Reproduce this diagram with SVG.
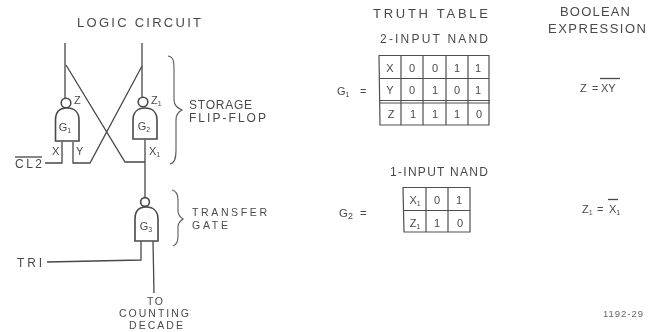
<svg xmlns="http://www.w3.org/2000/svg" width="662" height="332" viewBox="0 0 662 332">
<defs>
<filter id="soft" x="-5%" y="-5%" width="110%" height="110%"><feGaussianBlur stdDeviation="0.45"/></filter>
</defs>
<style>
text{font-family:"Liberation Sans",Arial,sans-serif;fill:#4a4a4a;font-size:11px}
.c{text-anchor:middle}
.s{font-size:12px}
.n{font-size:10.500px}
.h{font-size:13px}
.sub{font-size:7px}
.l{fill:none;stroke:#484848;stroke-width:1.3}
.g{fill:#fff;stroke:#484848;stroke-width:1.6}
.b{fill:none;stroke:#5a5a5a;stroke-width:1.1}
.tb{fill:none;stroke:#505050;stroke-width:1.2}
</style>
<rect width="662" height="332" fill="#fff"/>
<g filter="url(#soft)">
<text class="h" x="77" y="27" textLength="124">LOGIC CIRCUIT</text>
<text class="h" x="373" y="18" textLength="115">TRUTH TABLE</text>
<text class="h" x="560" y="16" textLength="70">BOOLEAN</text>
<text class="h" x="548" y="33" textLength="98">EXPRESSION</text>
<text class="s" x="380" y="43" textLength="108">2-INPUT NAND</text>
<text class="s" x="390" y="176" textLength="98">1-INPUT NAND</text>

<g id="connectors">
<path class="l" d="M65 43V99"/>
<path class="l" d="M142 43V98"/>
<path class="l" d="M66 65L125 162H145"/>
<path class="l" d="M142 66L90 163H73V142"/>
<path class="l" d="M45 163H62V142"/>
<path class="l" d="M145 140V198"/>
<path class="l" d="M141 241V260L47 262"/>
<path class="l" d="M153 241L154 293"/>
<path class="l" d="M15 157H42"/>
</g>

<g id="G1">
<circle class="g" cx="66" cy="103" r="4.8"/>
<path class="g" d="M55.500 141V120C55.500 112 60 108 67 108C74 108 79 112 79 120V141Z"/>
<text class="c" x="65" y="131">G<tspan class="sub" dy="2">1</tspan></text>
</g>
<g id="G2">
<circle class="g" cx="143" cy="102" r="4.8"/>
<path class="g" d="M133 139V120C133 112 138 108 145 108C152 108 157 112 157 120V139Z"/>
<text class="c" x="144" y="130">G<tspan class="sub" dy="2">2</tspan></text>
</g>
<g id="G3">
<circle class="g" cx="145" cy="202" r="4.4"/>
<path class="g" d="M135 241V219C135 211 139 207 146 207C153 207 158 211 158 219V241Z"/>
<text class="c" x="146" y="230">G<tspan class="sub" dy="2">3</tspan></text>
</g>

<g id="labels-logic">
<text x="74" y="104">Z</text>
<text x="151" y="104">Z<tspan class="sub" dy="2">1</tspan></text>
<text x="52" y="155">X</text>
<text x="76" y="155">Y</text>
<text x="149" y="155">X<tspan class="sub" dy="2">1</tspan></text>
<text x="15" y="168" class="s" textLength="27">CL2</text>
<text x="17" y="267" class="s" textLength="25">TRI</text>
<text class="n" x="147" y="305" textLength="16">TO</text>
<text class="n" x="119" y="317" textLength="70">COUNTING</text>
<text class="n" x="129" y="329" textLength="54">DECADE</text>
<text class="s" x="189" y="109" textLength="63">STORAGE</text>
<text class="s" x="189" y="122" textLength="77">FLIP-FLOP</text>
<text class="n" x="192" y="216" textLength="75">TRANSFER</text>
<text class="n" x="192" y="229" textLength="36">GATE</text>
</g>

<g id="brace-storage">
<path class="b" d="M168 56C174 57 174 62 174 70V100C174 106 178 108 182 110C178 112 176 115 176 120V150C176 158 175 163 170 164"/>
</g>
<g id="brace-transfer">
<path class="b" d="M172 190C177 191 178 195 178 200V211C178 215 180 217 183 219C180 221 178 223 178 227V236C178 242 176 245 173 246"/>
</g>

<g id="table-g1">
<text x="337" y="95">G<tspan class="sub" dy="2">1</tspan><tspan x="360" dy="-2">=</tspan></text>
<path class="tb" d="M379 55.500H489V125H380Z"/>
<path class="tb" d="M379 78.500H489M380 100.500H490M380 103H490M401 56V125M423 56V125M446 56V125M468 56V125"/>
<text class="c" x="390" y="72">X</text><text class="c" x="412" y="72">0</text><text class="c" x="435" y="72">0</text><text class="c" x="457" y="72">1</text><text class="c" x="478" y="72">1</text>
<text class="c" x="390" y="94">Y</text><text class="c" x="412" y="94">0</text><text class="c" x="435" y="94">1</text><text class="c" x="457" y="94">0</text><text class="c" x="478" y="94">1</text>
<text class="c" x="391" y="118">Z</text><text class="c" x="413" y="118">1</text><text class="c" x="435" y="118">1</text><text class="c" x="457" y="118">1</text><text class="c" x="479" y="118">0</text>
</g>

<g id="table-g2">
<text x="339" y="217" style="font-size:11.500px">G<tspan style="font-size:9px" dy="2">2</tspan><tspan x="360" dy="-2">=</tspan></text>
<path class="tb" d="M403 187.500H470V232H404Z"/>
<path class="tb" d="M403 210.500H470M426 187V232M448 187V232"/>
<text class="c" x="415" y="204">X<tspan class="sub" dy="2">1</tspan></text><text class="c" x="437" y="204">0</text><text class="c" x="459" y="204">1</text>
<text class="c" x="415" y="227">Z<tspan class="sub" dy="2">1</tspan></text><text class="c" x="437" y="227">1</text><text class="c" x="460" y="227">0</text>
</g>

<g id="boolean">
<text x="580" y="92">Z<tspan x="592">=</tspan><tspan x="601">XY</tspan></text>
<path class="l" d="M600 78.500H620"/>
<text x="582" y="213">Z<tspan class="sub" dy="2">1</tspan><tspan x="597" dy="-2">=</tspan><tspan x="609">X</tspan><tspan class="sub" dy="2">1</tspan></text>
<path class="l" d="M608 199.500H618"/>
<text x="603" y="317" style="font-size:9.500px;fill:#666" textLength="40">1192-29</text>
</g>
</g>
</svg>
